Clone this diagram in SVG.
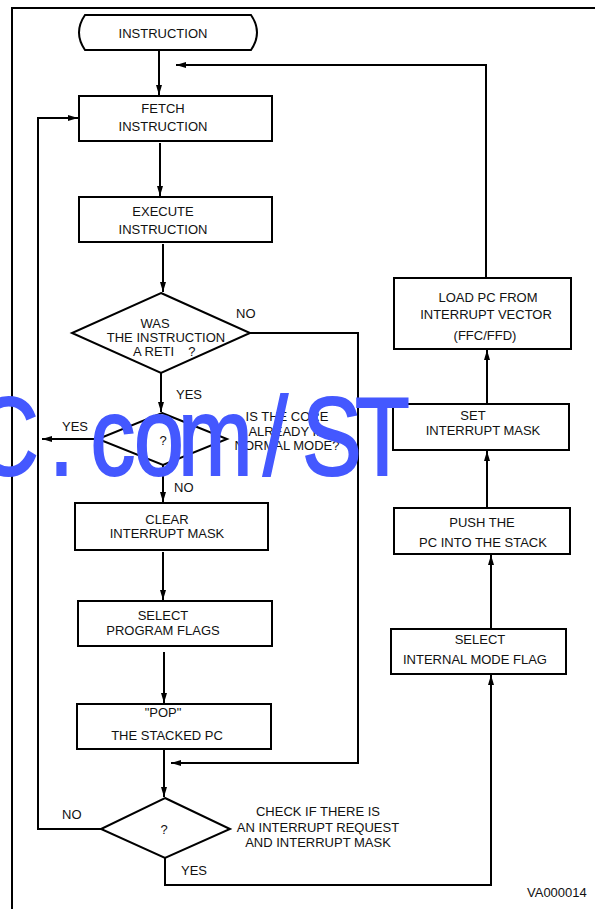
<svg xmlns="http://www.w3.org/2000/svg" width="595" height="909" viewBox="0 0 595 909">
<defs>
<marker id="ah" viewBox="0 0 10 6" refX="10" refY="3" markerWidth="10" markerHeight="6" markerUnits="userSpaceOnUse" orient="auto">
<path d="M0,0 L10,3 L0,6 Z" fill="#000"/>
</marker>
<style>
.b{fill:#fff;stroke:#000;stroke-width:2}
.c{fill:none;stroke:#000;stroke-width:2}
.a{marker-end:url(#ah)}
text{font-family:"Liberation Sans",Arial,sans-serif;font-size:13px;fill:#111}
.m{text-anchor:middle}
.wm{font-size:112px;fill:#4458ff;stroke:#4458ff;stroke-width:2}
</style>
</defs>
<rect width="595" height="909" fill="#fff"/>
<g id="frame">
<path class="c" d="M12,909 V8 H595"/>
</g>
<g id="connectors">
<path class="c a" d="M159,50 V95"/>
<path class="c a" d="M486,278 V65 H176"/>
<path class="c a" d="M160,143 V196"/>
<path class="c a" d="M163,244 V292"/>
<path class="c a" d="M250,333 H358 V763 H171"/>
<path class="c a" d="M161,373 V412"/>
<path class="c a" d="M98,439 H42"/>
<path class="c a" d="M163,465 V502"/>
<path class="c a" d="M163,552 V600"/>
<path class="c a" d="M164,652 V703"/>
<path class="c a" d="M164,749 V797"/>
<path class="c a" d="M101,829 H38 V118 H78"/>
<path class="c a" d="M165,858 V885 H491 V675"/>
<path class="c a" d="M491,629 V555"/>
<path class="c a" d="M487,508 V451"/>
<path class="c a" d="M487,404 V350"/>
</g>
<g id="start">
<path class="b" d="M85,15 H251 Q263,32.5 251,50 H85 Q73,32.5 85,15 Z"/>
<text class="m" x="163" y="38">INSTRUCTION</text>
</g>
<g id="fetch">
<rect class="b" x="79" y="96" width="193" height="45"/>
<text class="m" x="163" y="113">FETCH</text>
<text class="m" x="163" y="131">INSTRUCTION</text>
</g>
<g id="execute">
<rect class="b" x="79" y="197" width="193" height="45"/>
<text class="m" x="163" y="216">EXECUTE</text>
<text class="m" x="163" y="234">INSTRUCTION</text>
</g>
<g id="reti">
<path class="b" d="M161,293 L250,333 L161,373 L72,333 Z"/>
<text class="m" x="155" y="328">WAS</text>
<text class="m" x="166" y="342">THE INSTRUCTION</text>
<text x="133" y="356">A RETI<tspan dx="14">?</tspan></text>
<text x="236" y="318">NO</text>
<text x="176" y="399">YES</text>
</g>
<g id="normal">
<path class="b" d="M162,413 L227,439 L163,465 L98,439 Z"/>
<text class="m" x="163" y="445">?</text>
<text class="m" x="287" y="421">IS THE CORE</text>
<text class="m" x="287" y="436">ALREADY IN</text>
<text class="m" x="287" y="450">NORMAL MODE?</text>
<text x="62" y="431">YES</text>
<text x="174" y="492">NO</text>
</g>
<g id="clear">
<rect class="b" x="75" y="503" width="193" height="47"/>
<text class="m" x="167" y="524">CLEAR</text>
<text class="m" x="167" y="538">INTERRUPT MASK</text>
</g>
<g id="flags">
<rect class="b" x="78" y="601" width="194" height="45"/>
<text class="m" x="163" y="620">SELECT</text>
<text class="m" x="163" y="635">PROGRAM FLAGS</text>
</g>
<g id="pop">
<rect class="b" x="77" y="704" width="194" height="45"/>
<text class="m" x="163" y="717">"POP"</text>
<text class="m" x="167" y="740">THE STACKED PC</text>
</g>
<g id="check">
<path class="b" d="M165,798 L230,829 L165,858 L101,829 Z"/>
<text class="m" x="164" y="834">?</text>
<text class="m" x="318" y="816">CHECK IF THERE IS</text>
<text class="m" x="318" y="832">AN INTERRUPT REQUEST</text>
<text class="m" x="318" y="847">AND INTERRUPT MASK</text>
<text x="62" y="819">NO</text>
<text x="181" y="875">YES</text>
</g>
<g id="load">
<rect class="b" x="394" y="278" width="177" height="71"/>
<text class="m" x="488" y="302">LOAD PC FROM</text>
<text class="m" x="486" y="319">INTERRUPT VECTOR</text>
<text class="m" x="485" y="340">(FFC/FFD)</text>
</g>
<g id="setmask">
<rect class="b" x="393" y="404" width="176" height="46"/>
<text class="m" x="473" y="420">SET</text>
<text class="m" x="483" y="435">INTERRUPT MASK</text>
</g>
<g id="push">
<rect class="b" x="394" y="508" width="176" height="46"/>
<text class="m" x="482" y="527">PUSH THE</text>
<text class="m" x="483" y="547">PC INTO THE STACK</text>
</g>
<g id="selint">
<rect class="b" x="391" y="629" width="175" height="45"/>
<text class="m" x="480" y="644">SELECT</text>
<text class="m" x="475" y="664">INTERNAL MODE FLAG</text>
</g>
<text x="527" y="897">VA000014</text>
<g id="watermark">
<text class="wm" transform="scale(0.8,1)" x="-32.5 61.25 113.1 167.5 222.5 328.75 377.5 443.75" y="475">C.com/ST</text>
</g>
</svg>
